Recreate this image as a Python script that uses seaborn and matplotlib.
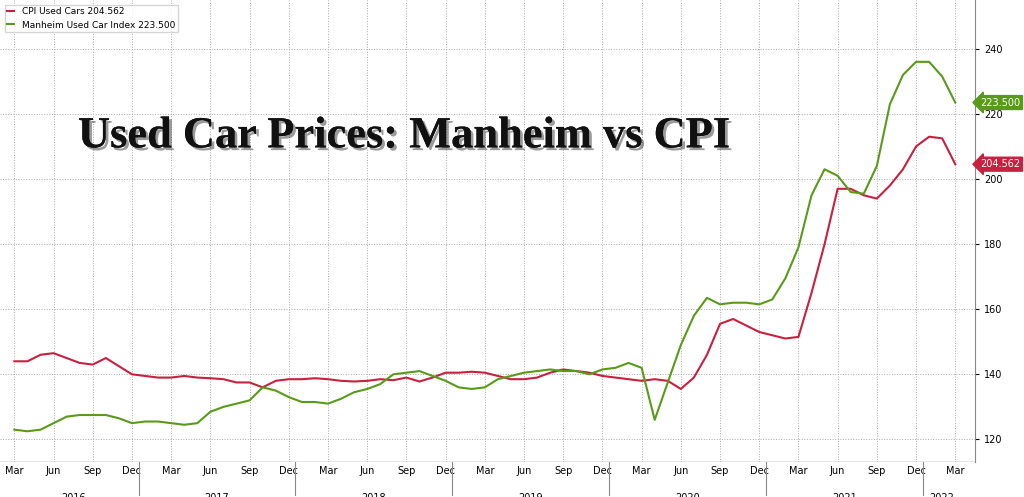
import matplotlib
matplotlib.use("Agg")
import matplotlib.pyplot as plt
import matplotlib.patheffects as pe
import seaborn as sns
import pandas as pd
import numpy as np

dates = pd.date_range("2016-03-01", "2022-03-01", freq="MS")
cpi = [144,144,146,146.5,145,143.5,143,145,142.5,140,
       139.5,139,139,139.5,139,138.8,138.5,137.5,137.5,136,138,138.5,
       138.5,138.8,138.5,138,137.8,138,138.5,138.2,139,137.8,139,140.5,
       140.5,140.8,140.5,139.5,138.5,138.5,139,140.5,141.5,141,140.5,139.5,
       139,138.5,138,138.5,138,135.5,139,146,155.5,157,155,153,
       152,151,151.5,165,180,197,197,195,194,198,203,210,
       213,212.5,204.562]
manheim = [123,122.5,123,125,127,127.5,127.5,127.5,126.5,125,
           125.5,125.5,125,124.5,125,128.5,130,131,132,136,135,133,
           131.5,131.5,131,132.5,134.5,135.5,137,140,140.5,141,139.5,138,
           136,135.5,136,138.5,139.5,140.5,141,141.5,141,141,140,141.5,
           142,143.5,142,126,137.5,149,158,163.5,161.5,162,162,161.5,
           163,169.5,179,195,203,201,196,195.5,204,223,232,236,
           236,231.5,223.5]
red, green = "#c8203f", "#5a9a1a"
x = np.arange(len(dates))
df = pd.DataFrame({"x": np.concatenate([x, x]),
                   "v": cpi + manheim,
                   "s": ["CPI Used Cars 204.562"]*len(x) + ["Manheim Used Car Index 223.500"]*len(x)})

fig = plt.figure(figsize=(10.24, 4.97), dpi=100)
ax = fig.add_axes([0.0, 0.07, 0.952, 0.93])
sns.lineplot(data=df, x="x", y="v", hue="s", palette=[red, green], lw=1.5, ax=ax)
ax.set_xlim(-1.1, 73.5)
ax.set_ylim(113, 255)
ax.yaxis.tick_right()
ax.set_yticks(range(120, 241, 20))
ax.tick_params(axis="y", labelsize=7, length=3)
ax.set_xlabel(""); ax.set_ylabel("")
for s in ["top", "left", "bottom"]:
    ax.spines[s].set_visible(False)
ax.spines["right"].set_color("#888")
ticks = [i for i, d in enumerate(dates) if d.month in (3, 6, 9, 12)]
ax.set_xticks(ticks)
ax.set_xticklabels([dates[i].strftime("%b") for i in ticks], fontsize=7)
ax.tick_params(axis="x", length=0, pad=3)
ax.grid(True, ls=":", color="#aaa", lw=0.7)
for yr in range(2016, 2023):
    idx = [i for i, d in enumerate(dates) if d.year == yr]
    ax.annotate(str(yr), xy=(np.mean([max(idx[0], -0.5), idx[-1]]), 0),
                xycoords=("data", "axes fraction"), xytext=(0, -22), textcoords="offset points",
                ha="center", va="top", fontsize=7)
    if yr > 2016:
        ax.axvline(idx[0] - 0.5, ymin=-0.07, ymax=0, color="#888", lw=0.8, clip_on=False)
ax.axhline(113, color="#888", lw=1)
leg = ax.legend(loc="upper left", fontsize=6.5, frameon=True, borderpad=0.3, handlelength=0.8,
                handleheight=0.8, fancybox=False, bbox_to_anchor=(0, 1))
leg.set_title(None)
for val, c in [(204.562, red), (223.5, green)]:
    ax.annotate(f"{val:.3f}", xy=(1, val), xycoords=("axes fraction", "data"), xytext=(4, 0),
                textcoords="offset points", va="center", fontsize=7, color="white",
                bbox=dict(boxstyle="larrow,pad=0.2", fc=c, ec=c))
ax.text(0.415, 0.705, "Used Car Prices: Manheim vs CPI", transform=ax.transAxes, ha="center",
        va="center", fontsize=32, fontweight="bold", family="Liberation Serif", color="#111",
        path_effects=[pe.withSimplePatchShadow(offset=(2, -2), alpha=0.4), pe.Normal()])
fig.savefig("out.png", dpi=100)
